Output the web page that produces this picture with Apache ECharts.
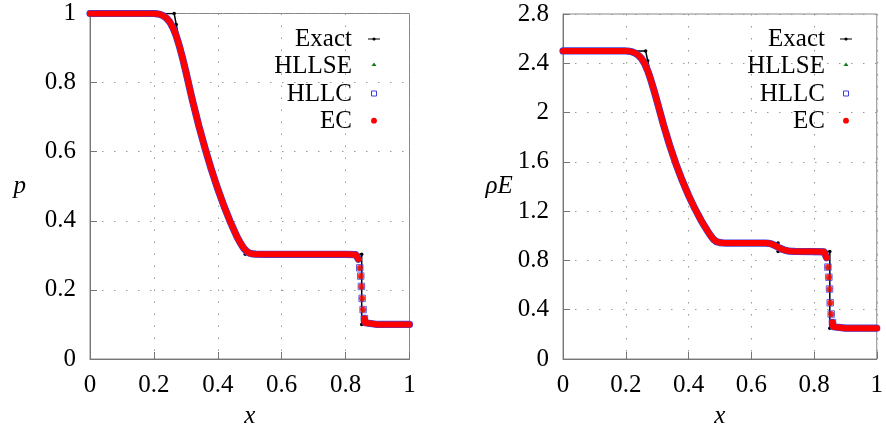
<!DOCTYPE html>
<html>
<head>
<meta charset="utf-8">
<script src="https://cdn.jsdelivr.net/npm/echarts@6/dist/echarts.min.js"></script>
<style>
html,body{margin:0;padding:0;background:#fff;}
#c{width:886px;height:434px;}
</style>
</head>
<body>
<div id="c"></div>
<script>
// ---------- data ----------
// tick labels
const xTickLabels = ['0', '0.2', '0.4', '0.6', '0.8', '1'];
const pTickLabels = ['0', '0.2', '0.4', '0.6', '0.8', '1'];
const eTickLabels = ['0', '0.4', '0.8', '1.2', '1.6', '2', '2.4', '2.8'];

// exact solution, pressure
const exactPX = [0, 0.2634, 0.27, 0.28, 0.29, 0.30, 0.32, 0.34, 0.36, 0.38, 0.40, 0.42, 0.44, 0.46, 0.47, 0.48, 0.4859, 0.8504, 0.8504, 1];
const exactP  = [1, 1, 0.968, 0.921, 0.876, 0.833, 0.752, 0.678, 0.6105, 0.549, 0.4925, 0.441, 0.3946, 0.352, 0.3325, 0.3139, 0.3031, 0.3031, 0.1, 0.1];

// exact solution, total energy rhoE
const exactEX = [0, 0.2634, 0.27, 0.28, 0.29, 0.30, 0.32, 0.34, 0.36, 0.38, 0.40, 0.42, 0.44, 0.46, 0.47, 0.48, 0.4859, 0.6855, 0.6855, 0.8504, 0.8504, 1];
const exactE  = [2.5, 2.5, 2.42, 2.304, 2.195, 2.092, 1.903, 1.734, 1.583, 1.449, 1.329, 1.222, 1.126, 1.040, 1.000, 0.963, 0.941, 0.941, 0.872, 0.872, 0.25, 0.25];

// numerical solutions (HLLSE, HLLC, EC coincide at plot resolution)
// smooth part, left of the shock
const numX1 = [0, 0.10, 0.20, 0.21, 0.22, 0.23, 0.24, 0.25, 0.26, 0.27, 0.28, 0.29, 0.30, 0.32, 0.34, 0.36, 0.38, 0.40, 0.42, 0.44, 0.46, 0.47, 0.48, 0.49, 0.50, 0.51, 0.52, 0.55, 0.60, 0.645, 0.655, 0.665, 0.675, 0.685, 0.695, 0.705, 0.715, 0.725, 0.74, 0.80, 0.832, 0.840];
const numP1 = [1, 1, 1, 0.999, 0.997, 0.993, 0.986, 0.975, 0.958, 0.935, 0.905, 0.870, 0.832, 0.751, 0.677, 0.610, 0.548, 0.492, 0.441, 0.395, 0.354, 0.337, 0.322, 0.312, 0.306, 0.304, 0.3035, 0.303, 0.303, 0.303, 0.303, 0.303, 0.303, 0.303, 0.303, 0.303, 0.303, 0.303, 0.303, 0.303, 0.302, 0.289];
const numE1 = [2.5, 2.5, 2.5, 2.498, 2.493, 2.483, 2.466, 2.44, 2.398, 2.34, 2.265, 2.18, 2.09, 1.903, 1.734, 1.583, 1.449, 1.329, 1.222, 1.126, 1.042, 1.003, 0.970, 0.952, 0.945, 0.942, 0.941, 0.941, 0.941, 0.941, 0.939, 0.933, 0.922, 0.908, 0.895, 0.885, 0.878, 0.875, 0.873, 0.872, 0.870, 0.822];
// cells inside the shock
const shockX = [0.8443, 0.8474, 0.8495, 0.8517, 0.8548, 0.8589];
const shockP = [0.264, 0.240, 0.210, 0.1755, 0.143, 0.117];
const shockE = [0.746, 0.664, 0.568, 0.456, 0.365, 0.296];
// smooth part, right of the shock
const numX2 = [0.8589, 0.861, 0.864, 0.90, 1.0];
const numP2 = [0.117, 0.105, 0.1005, 0.1, 0.1];
const numE2 = [0.296, 0.262, 0.251, 0.25, 0.25];

// ---------- chart ----------
const FONT = '"Liberation Serif", "Times New Roman", serif';
const zip = (xs, ys) => xs.map((x, i) => [x, ys[i]]);
const COL = { exact: '#000000', hllse: '#1a7a1a', hllc: '#4040dd', ec: '#ff0000' };

function axisCommon(labels, interval) {
  return {
    type: 'value', min: 0, interval: interval,
    axisLine: { show: true, lineStyle: { color: '#777', width: 1 } },
    axisTick: { show: true, inside: true, length: 7, lineStyle: { color: '#777', width: 1 } },
    axisLabel: {
      margin: 14, color: '#000', fontFamily: FONT, fontSize: 25,
      formatter: v => labels[Math.round(v / interval)] ?? String(v)
    },
    splitLine: { show: true, lineStyle: { color: '#999', width: 1, type: [1.5, 10.5] } },
    nameTextStyle: { color: '#000', fontFamily: FONT, fontSize: 25, fontStyle: 'italic' }
  };
}

function seriesFor(idx, exX, exY, y1, yS, y2) {
  const base = { xAxisIndex: idx, yAxisIndex: idx, animation: false, silent: true };
  const line = (name, data, color, width, z) => Object.assign({}, base, {
    name, type: 'line', data, symbol: 'none', z,
    lineStyle: { color, width, cap: 'round', join: 'round' }, itemStyle: { color }
  });
  return [
    Object.assign({}, base, {
      name: 'Exact', type: 'line', data: zip(exX, exY), z: 1,
      symbol: 'circle', symbolSize: 3.5, showAllSymbol: true,
      lineStyle: { color: COL.exact, width: 1.5 }, itemStyle: { color: COL.exact }
    }),
    line('HLLSE', zip(numX1, y1), COL.hllse, 6, 2),
    line('HLLSE', zip(numX2, y2), COL.hllse, 6, 2),
    Object.assign({}, base, { name: 'HLLSE', type: 'scatter', z: 2, data: zip(shockX, yS), symbol: 'triangle', symbolSize: 5, itemStyle: { color: COL.hllse } }),
    line('HLLC', zip(numX1, y1), COL.hllc, 7.2, 3),
    line('HLLC', zip(numX2, y2), COL.hllc, 7.2, 3),
    Object.assign({}, base, { name: 'HLLC', type: 'scatter', z: 3, data: zip(shockX, yS), symbol: 'rect', symbolSize: 6.5,
      itemStyle: { color: 'rgba(0,0,0,0)', borderColor: COL.hllc, borderWidth: 1 } }),
    line('EC', zip(numX1, y1), COL.ec, 6, 4),
    line('EC', zip(numX2, y2), COL.ec, 6, 4),
    Object.assign({}, base, { name: 'EC', type: 'scatter', z: 5, data: zip(shockX, yS), symbol: 'circle', symbolSize: 6.2, itemStyle: { color: COL.ec } })
  ];
}

const legendNames = ['Exact', 'HLLSE', 'HLLC', 'EC'];
const legendRowY = [39.5, 66.7, 94.2, 121.7];
function legendGraphics(textRight, iconX) {
  const els = [];
  legendNames.forEach((n, i) => {
    els.push({
      type: 'text', x: textRight, y: legendRowY[i], silent: true,
      style: { text: n, fill: '#000', font: '25px ' + FONT,
        textAlign: 'right', textVerticalAlign: 'middle', align: 'right', verticalAlign: 'middle' }
    });
  });
  els.push({ type: 'line', silent: true, shape: { x1: iconX - 6, y1: 39, x2: iconX + 6, y2: 39 }, style: { stroke: COL.exact, lineWidth: 1 } });
  els.push({ type: 'circle', silent: true, shape: { cx: iconX, cy: 39, r: 1.6 }, style: { fill: COL.exact } });
  els.push({ type: 'polygon', silent: true, shape: { points: [[iconX - 2.5, 66], [iconX + 2.5, 66], [iconX, 62.5]] }, style: { fill: COL.hllse } });
  els.push({ type: 'rect', silent: true, shape: { x: iconX - 2.5, y: 91, width: 5, height: 5 }, style: { fill: 'none', stroke: COL.hllc, lineWidth: 1 } });
  els.push({ type: 'circle', silent: true, shape: { cx: iconX, cy: 120.7, r: 2.9 }, style: { fill: COL.ec } });
  return els;
}

const xA0 = Object.assign(axisCommon(xTickLabels, 0.2), { gridIndex: 0, max: 1, name: 'x', nameLocation: 'middle', nameGap: 45 });
const xA1 = Object.assign(axisCommon(xTickLabels, 0.2), { gridIndex: 1, max: 1, name: 'x', nameLocation: 'middle', nameGap: 45 });
const yA0 = Object.assign(axisCommon(pTickLabels, 0.2), { gridIndex: 0, max: 1, name: 'p', nameLocation: 'middle', nameGap: 64, nameRotate: 0 });
const yA1 = Object.assign(axisCommon(eTickLabels, 0.4), { gridIndex: 1, max: 2.8, name: 'ρE', nameLocation: 'middle', nameGap: 48, nameRotate: 0 });

const chart = echarts.init(document.getElementById('c'), null, { renderer: 'canvas' });
chart.setOption({
  backgroundColor: '#fff',
  animation: false,
  grid: [
    { left: 90, top: 13.5, width: 319.5, height: 351, show: true, borderColor: '#888', borderWidth: 1, backgroundColor: 'transparent' },
    { left: 563, top: 14, width: 319, height: 350.3, show: true, borderColor: '#888', borderWidth: 1, backgroundColor: 'transparent' }
  ],
  xAxis: [xA0, xA1],
  yAxis: [yA0, yA1],
  series: [].concat(
    seriesFor(0, exactPX, exactP, numP1, shockP, numP2),
    seriesFor(1, exactEX, exactE, numE1, shockE, numE2)
  ),
  graphic: { elements: legendGraphics(352, 374).concat(legendGraphics(825, 846)) }
});
</script>
</body>
</html>
